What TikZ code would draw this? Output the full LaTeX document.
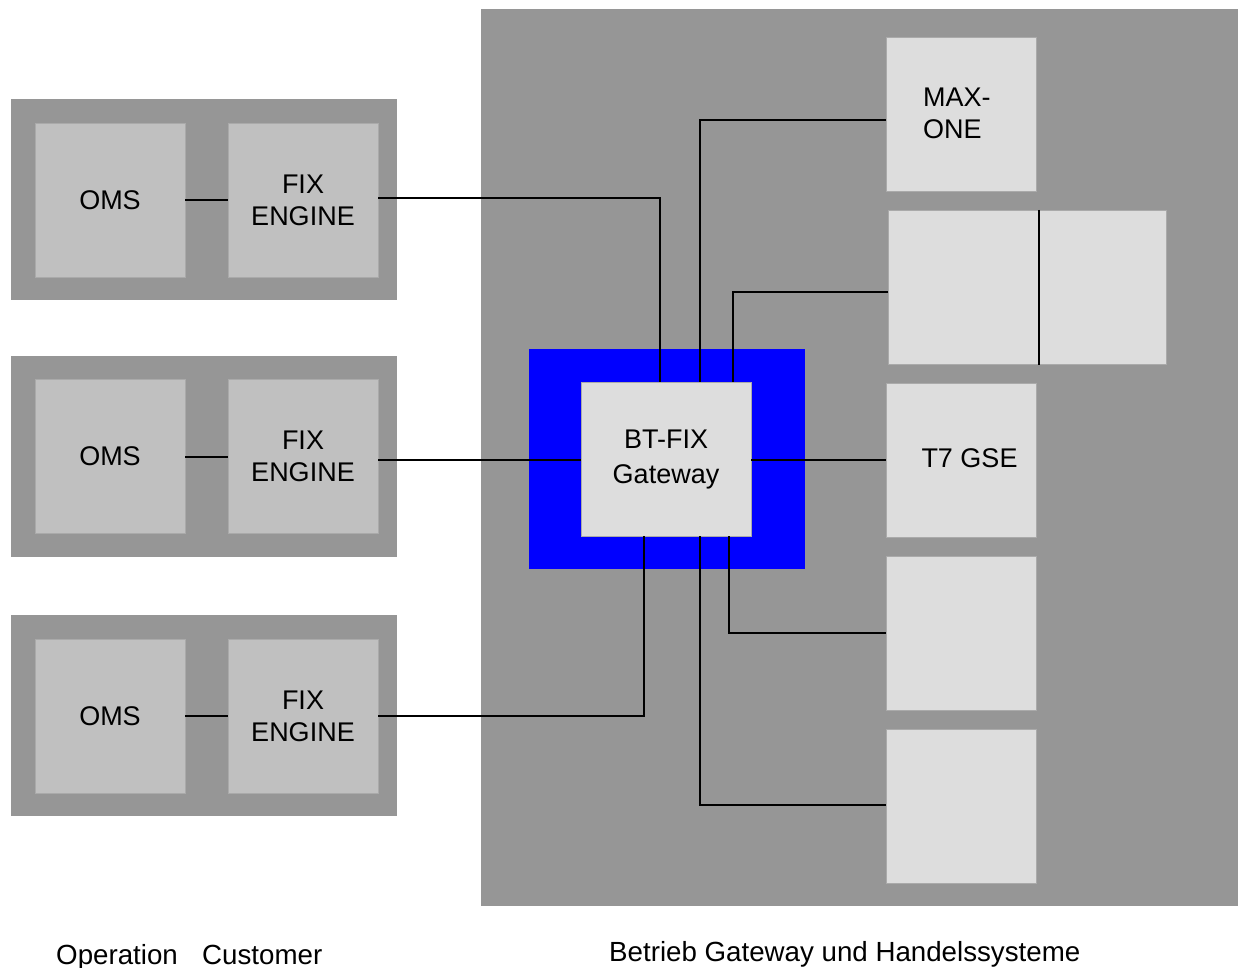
\documentclass[tikz,border=0pt]{standalone}
\usepackage{fontspec}
\setmainfont{Liberation Sans}
\definecolor{bggray}{HTML}{969696}
\definecolor{midgray}{HTML}{C0C0C0}
\definecolor{lightgray}{HTML}{DDDDDD}
\definecolor{boxedge}{HTML}{AAAAAA}
\begin{document}
\begin{tikzpicture}[x=1pt,y=-1pt,
  lbl/.style={font=\fontsize{27}{32}\selectfont, align=center, inner sep=0pt},
  captext/.style={font=\fontsize{27.7}{32}\selectfont, inner sep=0pt, anchor=base west},
  conn/.style={draw=black, line width=1.2pt},
  midbox/.style={fill=midgray, draw=boxedge, line width=0.6pt},
  lightbox/.style={fill=lightgray, draw=boxedge, line width=0.6pt}]
\useasboundingbox (0,0) rectangle (1241,968);
\fill[white] (0,0) rectangle (1241,968);
% right background
\fill[bggray] (481,9) rectangle (1238,906);
% left groups
\foreach \yo in {99,356,615}{
  \fill[bggray] (11,\yo) rectangle (397,\yo+201);
}
\path[midbox] (35,123) rectangle (185,277) node[midway, lbl] (oms1) {OMS};
\path[midbox] (228,123) rectangle (378,277) node[midway, lbl] (fix1) {FIX\\ENGINE};
\path[midbox] (35,379) rectangle (185,533) node[midway, lbl] (oms2) {OMS};
\path[midbox] (228,379) rectangle (378,533) node[midway, lbl] (fix2) {FIX\\ENGINE};
\path[midbox] (35,639) rectangle (185,793) node[midway, lbl] (oms3) {OMS};
\path[midbox] (228,639) rectangle (378,793) node[midway, lbl] (fix3) {FIX\\ENGINE};
% blue and gateway
\fill[blue] (529,349) rectangle (805,569);
\path[lightbox] (581,382) rectangle (751,536);
\node[lbl, font=\fontsize{27}{35}\selectfont] (bt) at (666,460) {BT-FIX\\Gateway};
% right boxes
\path[lightbox] (886,37) rectangle (1036,191);
\node[lbl, anchor=west, align=left] (max) at (923,113) {MAX-\\ONE};
\path[lightbox] (888,210) rectangle (1166,364);
\draw[black, line width=1.2pt] (1039,210) -- (1039,365);
\path[lightbox] (886,383) rectangle (1036,537);
\node[lbl] (t7) at (969.5,458) {T7 GSE};
\path[lightbox] (886,556) rectangle (1036,710);
\path[lightbox] (886,729) rectangle (1036,883);
% coordinates for connector ends
\coordinate (f1r) at (378,198);
\coordinate (f2r) at (378,460);
\coordinate (f3r) at (378,716);
\coordinate (btl) at (581,460);
\coordinate (btr) at (751,460);
\coordinate (btt1) at (660,382);
\coordinate (btt2) at (700,382);
\coordinate (btt3) at (733,382);
\coordinate (btb1) at (644,536);
\coordinate (btb2) at (700,536);
\coordinate (btb3) at (729,536);
\coordinate (maxl) at (886,120);
\coordinate (dbl) at (888,292);
\coordinate (t7l) at (886,460);
\coordinate (e1l) at (886,633);
\coordinate (e2l) at (886,805);
% connectors
\draw[conn] (185,200) -- (228,200);
\draw[conn] (185,457) -- (228,457);
\draw[conn] (185,716) -- (228,716);
\draw[conn] (f1r) -| (btt1);
\draw[conn] (maxl) -| (btt2);
\draw[conn] (dbl) -| (btt3);
\draw[conn] (f2r) -- (btl);
\draw[conn] (btr) -- (t7l);
\draw[conn] (btb1) |- (f3r);
\draw[conn] (btb2) |- (e2l);
\draw[conn] (btb3) |- (e1l);
% captions
\node[captext] (op) at (56,964) {Operation};
\node[captext] (cu) at (202,964) {Customer};
\node[captext] (be) at (609,961) {Betrieb Gateway und Handelssysteme};
\end{tikzpicture}
\end{document}
